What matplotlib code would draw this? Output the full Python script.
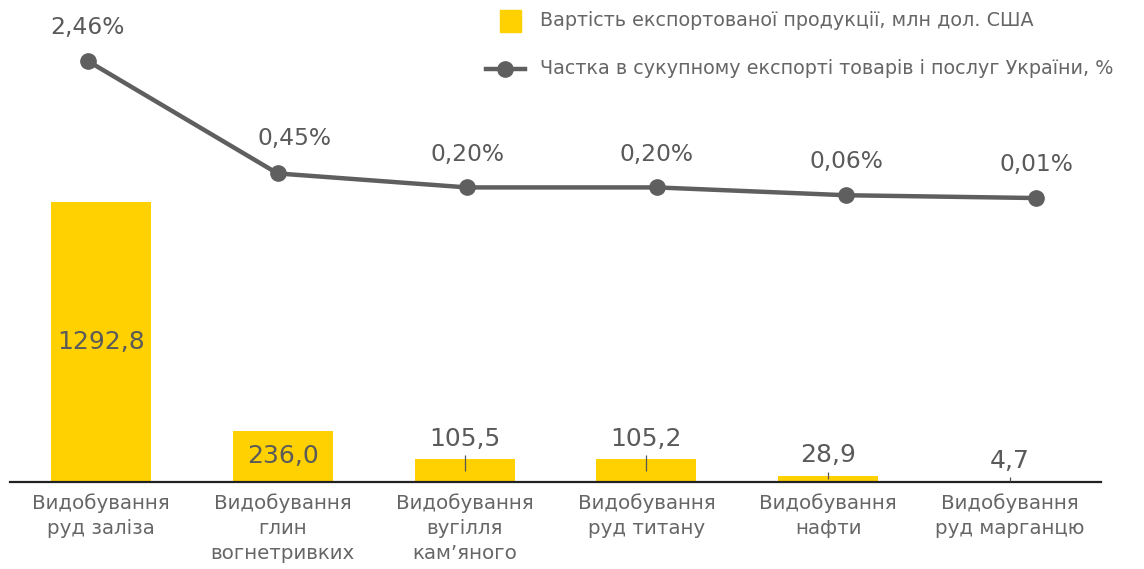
import matplotlib
matplotlib.use("Agg")
import matplotlib.pyplot as plt
from matplotlib.patches import Rectangle
from matplotlib.lines import Line2D

categories = [
    "Видобування\nруд заліза",
    "Видобування\nглин\nвогнетривких",
    "Видобування\nвугілля\nкам’яного",
    "Видобування\nруд титану",
    "Видобування\nнафти",
    "Видобування\nруд марганцю",
]
export_value = [1292.8, 236.0, 105.5, 105.2, 28.9, 4.7]
export_labels = ["1292,8", "236,0", "105,5", "105,2", "28,9", "4,7"]
share = [2.46, 0.45, 0.20, 0.20, 0.06, 0.01]
share_labels = ["2,46%", "0,45%", "0,20%", "0,20%", "0,06%", "0,01%"]
legend_labels = [
    "Вартість експортованої продукції, млн дол. США",
    "Частка в сукупному експорті товарів і послуг України, %",
]

YELLOW = "#FFD100"
LINE_GRAY = "#5F5F5F"
TEXT_GRAY = "#5A5A5A"
CAT_GRAY = "#666666"

plt.rcParams["font.family"] = ["DejaVu Sans"]

W, H = 1144, 569
fig = plt.figure(figsize=(W / 100, H / 100), dpi=100)

# axes box in pixel coordinates
left_px, right_px, bottom_px, top_px = 10, 1101, 482, 20
rect = [left_px / W, 1 - bottom_px / H, (right_px - left_px) / W, (bottom_px - top_px) / H]

ax = fig.add_axes(rect)
x = list(range(len(categories)))
ax.bar(x, export_value, width=0.55, color=YELLOW, zorder=2)
ax.set_axisbelow(False)
ax.set_xlim(-0.5, len(categories) - 0.5)
y_max = 2133
ax.set_ylim(0, y_max)
ax.set_yticks([])
for s in ("left", "right", "top"):
    ax.spines[s].set_visible(False)
ax.spines["bottom"].set_color("#222222")
ax.spines["bottom"].set_linewidth(1.6)
ax.set_xticks(x)
ax.set_xticklabels(categories, fontsize=14.3, color=CAT_GRAY, linespacing=1.42)
ax.tick_params(axis="x", length=0, pad=8)

# data units per pixel on the bar axis
unit_px = y_max / (bottom_px - top_px)

for xi, v, lab in zip(x, export_value, export_labels):
    if v > 200:
        ax.text(xi, v / 2, lab, ha="center", va="center", fontsize=18, color=TEXT_GRAY, zorder=5)
    else:
        ax.annotate(lab, (xi, v), xytext=(0, 6), textcoords="offset points",
                    ha="center", va="bottom", fontsize=18, color=TEXT_GRAY, zorder=5)
        # leader line from the moved label back to the bar centre
        ax.plot([xi, xi], [v / 2, v + 4 * unit_px], color="#555555", lw=0.9,
                zorder=4, solid_capstyle="butt")

# line series on its own overlaid axes
ax2 = fig.add_axes(rect, frameon=False)
ax2.plot(x, share, color=LINE_GRAY, lw=3.2, marker="o", ms=11, zorder=3)
ax2.set_xlim(-0.411, 5.343)
ax2.set_ylim(-5.07, 3.195)
ax2.set_xticks([])
ax2.set_yticks([])
ax2.patch.set_visible(False)

offsets = [(0, 24), (12, 25), (0, 24), (0, 24), (0, 24), (0, 24)]
for xi, v, lab, (dx, dy) in zip(x, share, share_labels, offsets):
    ax2.annotate(lab, (xi, v), xytext=(dx, dy), textcoords="offset points",
                 ha="center", va="center", fontsize=16.8, color=TEXT_GRAY)

# legend
fig.patches.append(Rectangle((500 / W, 1 - 32 / H), 21 / W, 22 / H,
                             transform=fig.transFigure, color=YELLOW))
fig.lines.append(Line2D([486 / W, 525 / W], [1 - 69 / H, 1 - 69 / H], transform=fig.transFigure,
                        color=LINE_GRAY, lw=3.2))
fig.lines.append(Line2D([505 / W], [1 - 69 / H], transform=fig.transFigure,
                        color=LINE_GRAY, marker="o", ms=11))
fig.text(540 / W, 1 - 21 / H, legend_labels[0], ha="left", va="center", fontsize=13.8, color=CAT_GRAY)
fig.text(540 / W, 1 - 69 / H, legend_labels[1], ha="left", va="center", fontsize=13.8, color=CAT_GRAY)

fig.savefig("out.png", dpi=100, facecolor="white")
